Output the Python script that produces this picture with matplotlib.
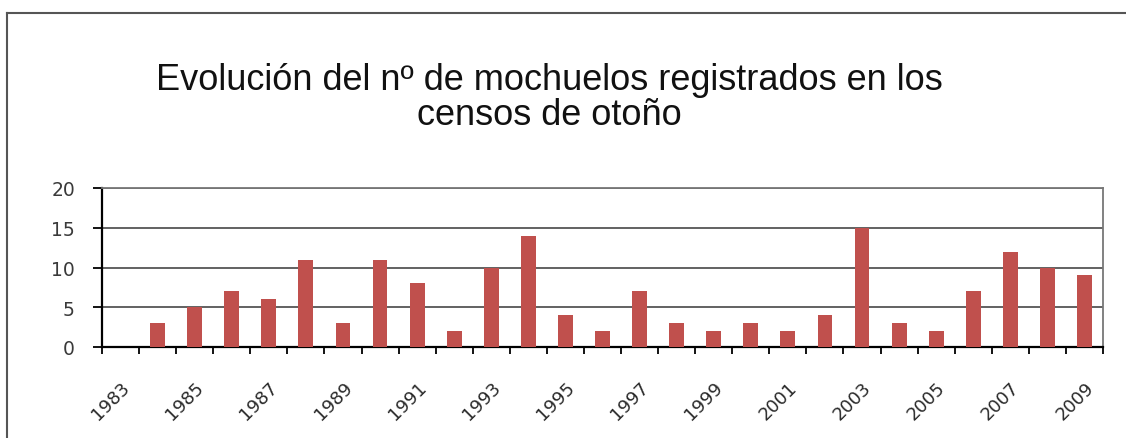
import matplotlib
matplotlib.use('Agg')
import numpy as np
import matplotlib.pyplot as plt
from matplotlib.lines import Line2D

# data
years = list(range(1983, 2010))
counts = [0, 3, 5, 7, 6, 11, 3, 11, 8, 2, 10, 14, 4, 2, 7, 3, 2, 3, 2, 4, 15, 3, 2, 7, 12, 10, 9]
yticks = [0, 5, 10, 15, 20]
title = 'Evolución del nº de mochuelos registrados en los\ncensos de otoño'

bar_color = '#c0504d'
grid_color = '#555555'

fig = plt.figure(figsize=(11.26, 4.39), dpi=100)
ax = fig.add_axes([102 / 1126, 1 - 348 / 439, 1001 / 1126, 159 / 439])

x = np.arange(len(years))
ax.bar(x, counts, width=0.4, color=bar_color, zorder=3)

ax.set_xlim(-0.5, len(years) - 0.5)
ax.set_ylim(0, 20)
ax.set_yticks(yticks)
ax.yaxis.grid(True, color=grid_color, lw=1.3, zorder=1)

# ticks between categories, labels every other year
ax.set_xticks(np.arange(-0.5, len(years)), minor=True)
ax.set_xticks(x[::2])
ax.set_xticklabels([str(y) for y in years[::2]], rotation=45, ha='right',
                   va='top', rotation_mode='anchor', fontsize=13, color='#2a2a2a')
ax.tick_params(axis='x', which='major', length=0, pad=22)
ax.tick_params(axis='x', which='minor', length=5, width=1.3, direction='out', color='black')
ax.tick_params(axis='y', length=6.5, width=1.3, direction='out', labelsize=13.5,
               labelcolor='#3a3a3a', pad=13)

for s in ['left', 'bottom']:
    ax.spines[s].set_color('black')
    ax.spines[s].set_linewidth(1.6)
for s in ['top', 'right']:
    ax.spines[s].set_color('#777777')
    ax.spines[s].set_linewidth(1.3)

# title, centred left of the plot like the spreadsheet original
fig.text(549 / 1126, 1 - 63 / 439, title, ha='center', va='top', fontsize=26,
         family=['Liberation Sans', 'DejaVu Sans'],
         linespacing=1.0, color='#111111')

# outer chart border (only top and left visible)
fig.add_artist(Line2D([7 / 1126, 7 / 1126], [0, 1 - 14 / 439], transform=fig.transFigure,
                      color='#555555', lw=1.5))
fig.add_artist(Line2D([7 / 1126, 1], [1 - 14 / 439, 1 - 14 / 439], transform=fig.transFigure,
                      color='#555555', lw=1.5))

fig.savefig('out.png', dpi=100)
